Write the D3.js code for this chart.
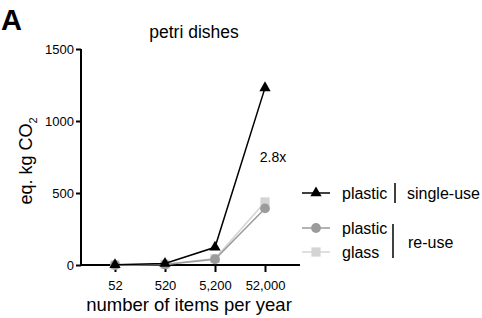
<!doctype html>
<html>
<head>
<style>
  body { margin: 0; background: #fff; }
  text { font-family: "Liberation Sans", Arial, sans-serif; fill: #000; }
</style>
<script src="https://d3js.org/d3.v7.min.js"></script>
</head>
<body>
<svg width="482" height="318"></svg>
<script>
var categories = ["52", "520", "5,200", "52,000"];
var singleUsePlastic = [1, 10, 123, 1230];
var reusePlastic = [0.4, 4, 40, 393];
var reuseGlass = [0.5, 5, 45, 438];
var yTicks = [0, 500, 1000, 1500];

var svg = d3.select("svg");

var x = d3.scalePoint().domain(categories).range([115, 265]);
var y = d3.scaleLinear().domain([0, 1500]).range([265, 49]);

// axes
svg.append("g")
   .attr("transform", "translate(81,0)")
   .call(d3.axisLeft(y).tickValues(yTicks).tickSize(5).tickPadding(2).tickFormat(d3.format("d")))
   .call(function(g) {
       g.select(".domain").attr("d", "M0,49V265").attr("stroke-width", 2);
       g.selectAll(".tick line").attr("stroke-width", 2);
       g.selectAll(".tick text").attr("font-size", 13).attr("font-family", "Liberation Sans, Arial, sans-serif");
   });

svg.append("g")
   .attr("transform", "translate(0,265)")
   .call(d3.axisBottom(x).tickSize(7).tickPadding(9))
   .call(function(g) {
       g.select(".domain").attr("d", "M80,0H300").attr("stroke-width", 2);
       g.selectAll(".tick line").attr("stroke-width", 2);
       g.selectAll(".tick text").attr("font-size", 13).attr("font-family", "Liberation Sans, Arial, sans-serif");
   });

var line = d3.line().x(function(d, i) { return x(categories[i]); }).y(function(d) { return y(d); });

var tri = d3.symbol().type(d3.symbolTriangle).size(55);
var circ = d3.symbol().type(d3.symbolCircle).size(75);
var sq = d3.symbol().type(d3.symbolSquare).size(85);

var series = [
    {values: reuseGlass, color: "#d4d4d4", sym: sq},
    {values: reusePlastic, color: "#9b9b9b", sym: circ},
    {values: singleUsePlastic, color: "#000", sym: tri}
];

series.forEach(function(s) {
    svg.append("path").attr("d", line(s.values))
       .attr("fill", "none").attr("stroke", s.color).attr("stroke-width", 1.5);
    svg.selectAll(null).data(s.values).enter().append("path")
       .attr("d", s.sym)
       .attr("fill", s.color)
       .attr("transform", function(d, i) { return "translate(" + x(categories[i]) + "," + y(d) + ")"; });
});

// texts
svg.append("text").attr("x", 1).attr("y", 30).attr("font-size", 29).attr("font-weight", "bold").text("A");
svg.append("text").attr("x", 194).attr("y", 38).attr("font-size", 17.5).attr("text-anchor", "middle").text("petri dishes");
svg.append("text").attr("x", 273).attr("y", 162).attr("font-size", 14).attr("text-anchor", "middle").text("2.8x");

var yl = svg.append("text").attr("transform", "translate(32,161) rotate(-90)")
   .attr("font-size", 18).attr("text-anchor", "middle");
yl.append("tspan").text("eq. kg CO");
yl.append("tspan").attr("font-size", 11).attr("dy", 5).text("2");

svg.append("text").attr("x", 189).attr("y", 311).attr("font-size", 18.5).attr("text-anchor", "middle")
   .text("number of items per year");

// legend
var legend = [
    {label: "plastic", color: "#000", sym: tri, y: 193},
    {label: "plastic", color: "#9b9b9b", sym: circ, y: 228},
    {label: "glass", color: "#d4d4d4", sym: sq, y: 252}
];
legend.forEach(function(l) {
    svg.append("line").attr("x1", 302).attr("x2", 330).attr("y1", l.y).attr("y2", l.y)
       .attr("stroke", l.color).attr("stroke-width", 1.5);
    svg.append("path").attr("d", l.sym).attr("fill", l.color)
       .attr("transform", "translate(316," + l.y + ")");
    svg.append("text").attr("x", 342).attr("y", l.y + 6).attr("font-size", 16).text(l.label);
});
svg.append("line").attr("x1", 395).attr("x2", 395).attr("y1", 183).attr("y2", 203).attr("stroke", "#000").attr("stroke-width", 1.5);
svg.append("text").attr("x", 407).attr("y", 199).attr("font-size", 16).text("single-use");
svg.append("line").attr("x1", 393).attr("x2", 393).attr("y1", 224).attr("y2", 258).attr("stroke", "#000").attr("stroke-width", 1.5);
svg.append("text").attr("x", 408).attr("y", 248).attr("font-size", 16).text("re-use");
</script>
</body>
</html>
